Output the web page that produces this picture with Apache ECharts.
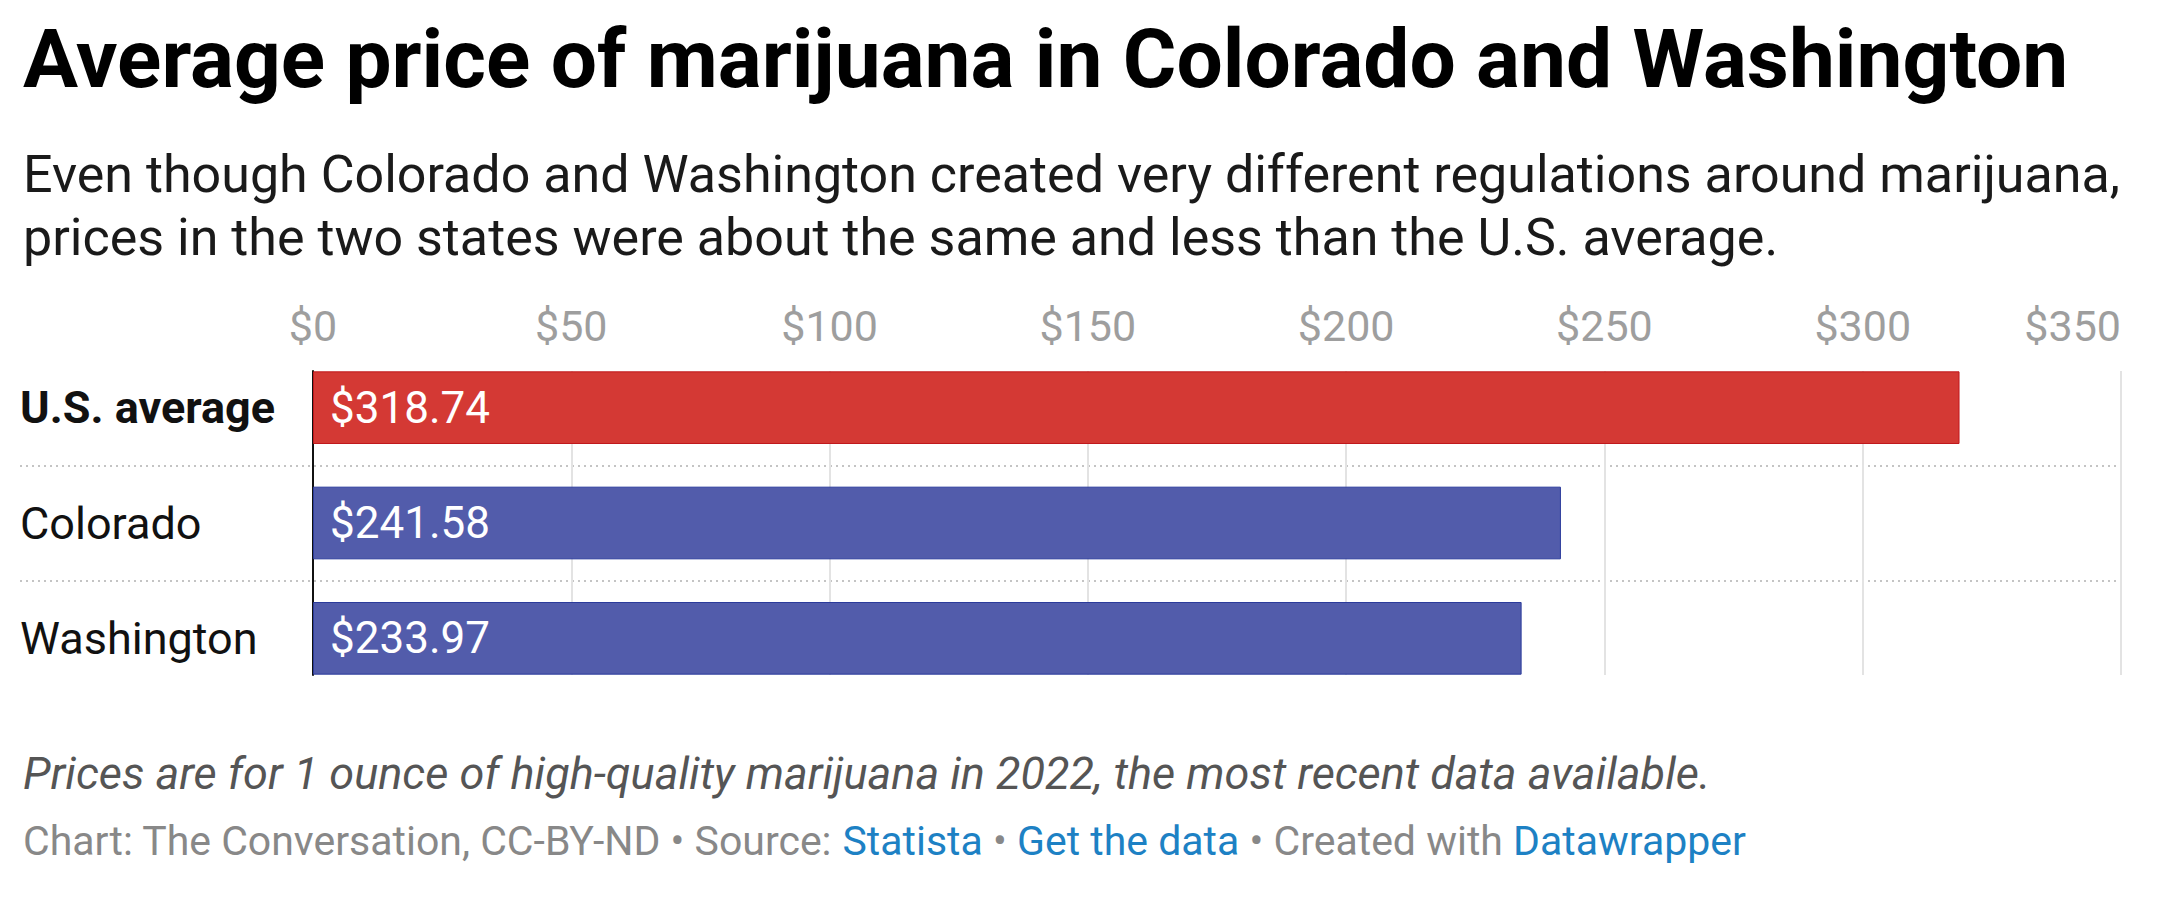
<!DOCTYPE html>
<html>
<head>
<meta charset="utf-8">
<script src="https://cdn.jsdelivr.net/npm/echarts@6/dist/echarts.min.js"></script>
<style>
  html, body { margin: 0; padding: 0; background: #fff; }
  #chart { width: 2162px; height: 897px; }
</style>
</head>
<body>
<div id="chart"></div>
<script>
// ---- data ----
const categories = ['U.S. average', 'Colorado', 'Washington'];
const prices = [318.74, 241.58, 233.97];
const barColors = ['#d43934', '#525cab'];
const barBorders = ['#c0181c', '#2b3b9b'];
const tickValues = [0, 50, 100, 150, 200, 250, 300, 350];

const titleText = 'Average price of marijuana in Colorado and Washington';
const subtitleText = 'Even though Colorado and Washington created very different regulations around marijuana,\nprices in the two states were about the same and less than the U.S. average.';
const noteText = 'Prices are for 1 ounce of high-quality marijuana in 2022, the most recent data available.';

// ---- layout ----
const FONT = 'Roboto, "Noto Sans", sans-serif';
const plotLeft = 313, plotRight = 41;
const barGridTop = 350, barGridH = 346;
const lineGridTop = 371, lineGridH = 304;
const axMin = tickValues[0], axMax = tickValues[tickValues.length - 1];
const axStep = tickValues[1] - tickValues[0];

const chart = echarts.init(document.getElementById('chart'), null, { renderer: 'svg' });

const option = {
  backgroundColor: '#ffffff',
  animation: false,
  textStyle: { fontFamily: FONT },
  title: [
    {
      text: titleText, left: 18, top: 13,
      textStyle: { fontFamily: FONT, fontSize: 82, fontWeight: 'bold', color: '#000', lineHeight: 82 }
    },
    {
      text: subtitleText, left: 18, top: 138,
      textStyle: { fontFamily: FONT, fontSize: 52, fontWeight: 'normal', color: '#1a1a1a', lineHeight: 63 }
    },
    {
      text: noteText, left: 18, top: 746,
      textStyle: { fontFamily: FONT, fontSize: 45, fontStyle: 'italic', fontWeight: 'normal', color: '#555', lineHeight: 45 }
    },
    {
      text: '{g|Chart: The Conversation, CC-BY-ND • Source: }{b|Statista}{g| • }{b|Get the data}{g| • Created with }{b|Datawrapper}',
      left: 18, top: 815,
      textStyle: {
        fontFamily: FONT, fontSize: 41, lineHeight: 41, fontWeight: 'normal',
        rich: {
          g: { fontFamily: FONT, fontSize: 41, fontWeight: 'normal', color: '#888' },
          b: { fontFamily: FONT, fontSize: 41, fontWeight: 'normal', color: '#1d81c4' }
        }
      }
    }
  ],
  grid: [
    { left: plotLeft, right: plotRight, top: barGridTop, height: barGridH },   // bars
    { left: plotLeft, right: plotRight, top: lineGridTop, height: lineGridH }, // gridlines/ticks
    { left: 20, right: plotRight, top: barGridTop, height: barGridH }          // row separators
  ],
  xAxis: [
    { gridIndex: 0, type: 'value', min: axMin, max: axMax, interval: axStep, show: false },
    {
      gridIndex: 1, type: 'value', position: 'top', min: axMin, max: axMax, interval: axStep,
      axisLine: { show: false }, axisTick: { show: false },
      splitLine: { show: true, lineStyle: { color: '#e3e3e3', width: 2 } },
      axisLabel: {
        margin: 24, fontFamily: FONT, fontSize: 43, color: '#9e9e9e',
        formatter: v => '$' + v, alignMaxLabel: 'right'
      }
    },
    { gridIndex: 2, type: 'value', min: 0, max: 1, show: false }
  ],
  yAxis: [
    {
      gridIndex: 0, type: 'category', data: categories, inverse: true,
      axisLine: { show: false }, axisTick: { show: false }, splitLine: { show: false },
      axisLabel: {
        margin: plotLeft - 20, align: 'left',
        formatter: (v, i) => (i === 0 ? '{b|' + v + '}' : '{n|' + v + '}'),
        rich: {
          b: { fontFamily: FONT, fontSize: 45, fontWeight: 'bold', color: '#111' },
          n: { fontFamily: FONT, fontSize: 45, fontWeight: 'normal', color: '#111' }
        }
      }
    },
    {
      gridIndex: 1, type: 'category', data: categories, inverse: true,
      axisLine: { show: true, lineStyle: { color: '#111', width: 2 } },
      axisTick: { show: false }, axisLabel: { show: false }, splitLine: { show: false }
    },
    {
      gridIndex: 2, type: 'category', data: categories, inverse: true,
      axisLine: { show: false }, axisTick: { show: false }, axisLabel: { show: false },
      splitLine: {
        show: true, showMinLine: false, showMaxLine: false,
        lineStyle: { color: '#c4c4c4', width: 2, type: [2, 4] }
      }
    }
  ],
  series: [
    {
      type: 'bar', xAxisIndex: 0, yAxisIndex: 0,
      barCategoryGap: '37%',
      data: prices.map((v, i) => ({
        value: v,
        itemStyle: {
          color: i === 0 ? barColors[0] : barColors[1],
          borderColor: i === 0 ? barBorders[0] : barBorders[1],
          borderWidth: 1
        }
      })),
      label: {
        show: true, position: 'insideLeft', distance: 17,
        fontFamily: FONT, fontSize: 44, color: '#fff',
        formatter: p => '$' + p.value.toFixed(2)
      },
      z: 3
    }
  ]
};

chart.setOption(option);
</script>
</body>
</html>
